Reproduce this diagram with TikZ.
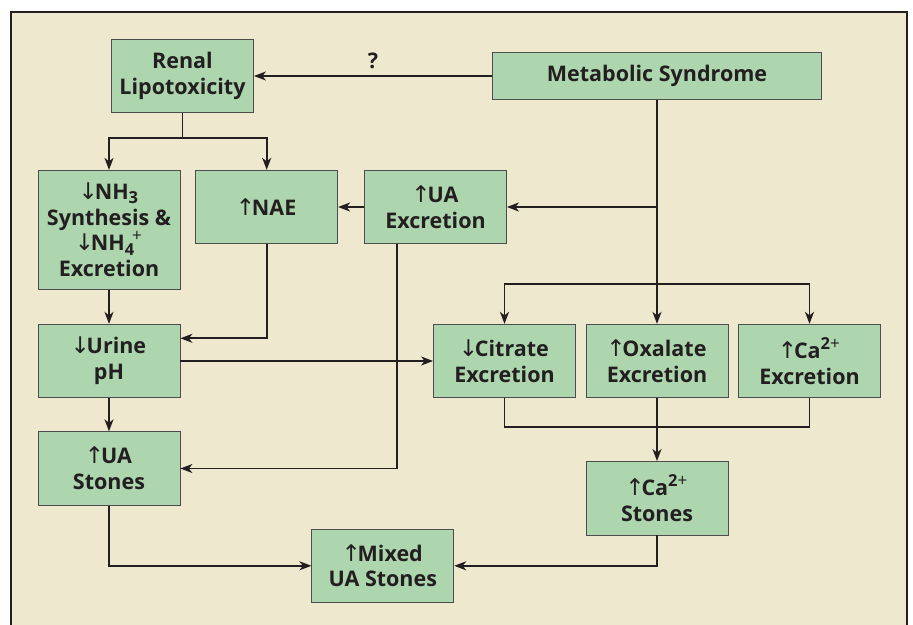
\documentclass[tikz,border=0pt]{standalone}
\usepackage{fontspec}
\setmainfont{Open Sans}
\newfontfamily\arrfont{DejaVu Sans}
\usetikzlibrary{arrows.meta}
\definecolor{bgbeige}{HTML}{EEE8CE}
\definecolor{boxgreen}{HTML}{ADD6AE}
\definecolor{ink}{HTML}{231F20}
\newcommand{\up}{{\arrfont\fontseries{m}\fontsize{23}{20}\selectfont\kern-0.05em↑\kern-0.14em}}
\newcommand{\dn}{{\arrfont\fontseries{m}\fontsize{23}{20}\selectfont\kern-0.05em↓\kern-0.14em}}
\newcommand{\lowsub}[1]{\raisebox{-0.35ex}{\fontsize{16.5}{15}\selectfont #1}}
\newcommand{\hisup}[1]{\raisebox{0.75ex}{\fontsize{16.5}{15}\selectfont #1}}
\newcommand{\thinplus}{\raisebox{0.8ex}{\fontsize{17}{15}\fontseries{m}\selectfont +}}
\begin{document}
\begin{tikzpicture}[x=1pt,y=-1pt,
  box/.style={draw=ink!80,line width=0.8pt,fill=boxgreen,align=center,inner sep=0pt,
    font=\fontsize{21.5}{25.7}\selectfont\bfseries,text=ink,minimum width=142pt,minimum height=73.5pt},
  conn/.style={draw=ink,line width=1.7pt},
  arr/.style={conn,-{Stealth[length=12pt,width=9pt,inset=3.5pt]}}]
\useasboundingbox (0,0) rectangle (913,624);
\clip (0,0) rectangle (913,624);
\fill[white] (0,0) rectangle (913,624);
\draw[fill=bgbeige,draw=ink,line width=1.8pt] (11,12) rectangle (907,660);

\node[box] (renal) at (182.5,76) {Renal\\Lipotoxicity};
\node[box,minimum width=329.5pt,minimum height=47pt] (meta) at (657,76) {Metabolic Syndrome};
\node[box,minimum height=119pt] (nh3) at (109,229.8) {\dn NH\lowsub{3}\\Synthesis \&\\\dn NH\lowsub{4}\kern-0.1em\thinplus\\Excretion};
\node[box] (nae) at (266.7,207) {\up NAE};
\node[box] (uaex) at (435.5,207) {\up UA\\Excretion};
\node[box] (citrate) at (504.5,361) {\dn Citrate\\Excretion};
\node[box] (oxalate) at (657,361) {\up Oxalate\\Excretion};
\node[box] (caex) at (809.5,361) {\up Ca\hisup{2}\thinplus\\Excretion};
\node[box] (urine) at (109,361) {\dn Urine\\pH};
\node[box] (uast) at (109,468.5) {\up UA\\Stones};
\node[box] (cast) at (657,498.2) {\up Ca\hisup{2}\thinplus\\Stones};
\node[box] (mixed) at (382.8,565.8) {\up Mixed\\UA Stones};
\node[font=\fontsize{21.5}{24}\selectfont\bfseries,text=ink] (q) at (373,61) {?};

\coordinate (rb) at (182.5,138);
\coordinate (mu) at (657,207);
\coordinate (mb) at (657,284);
\coordinate (cm) at (657,427);

\draw[arr] (meta.west) -- (renal.east);
\draw[conn] (renal.south) -- (rb);
\draw[arr] (rb) -| (nh3.north);
\draw[arr] (rb) -| (nae.north);
\draw[conn] (meta.south) -- (mb);
\draw[arr] (mu) -- (uaex.east);
\draw[arr] (uaex.west) -- (nae.east);
\draw[arr] (mb) -| (citrate.north);
\draw[arr] (mb) -- (oxalate.north);
\draw[arr] (mb) -| (caex.north);
\draw[arr] (nh3.south) -- (urine.north);
\draw[arr] (nae.south) |- ([yshift=22.7pt]urine.east);
\draw[arr] (urine.east) -- (citrate.west);
\draw[arr] (urine.south) -- (uast.north);
\draw[arr] ([xshift=-38.8pt]uaex.south) |- (uast.east);
\draw[conn] (citrate.south) |- (cm) -| (caex.south);
\draw[arr] (oxalate.south) -- (cast.north);
\draw[arr] (uast.south) |- (mixed.west);
\draw[arr] (cast.south) |- (mixed.east);
\end{tikzpicture}
\end{document}
